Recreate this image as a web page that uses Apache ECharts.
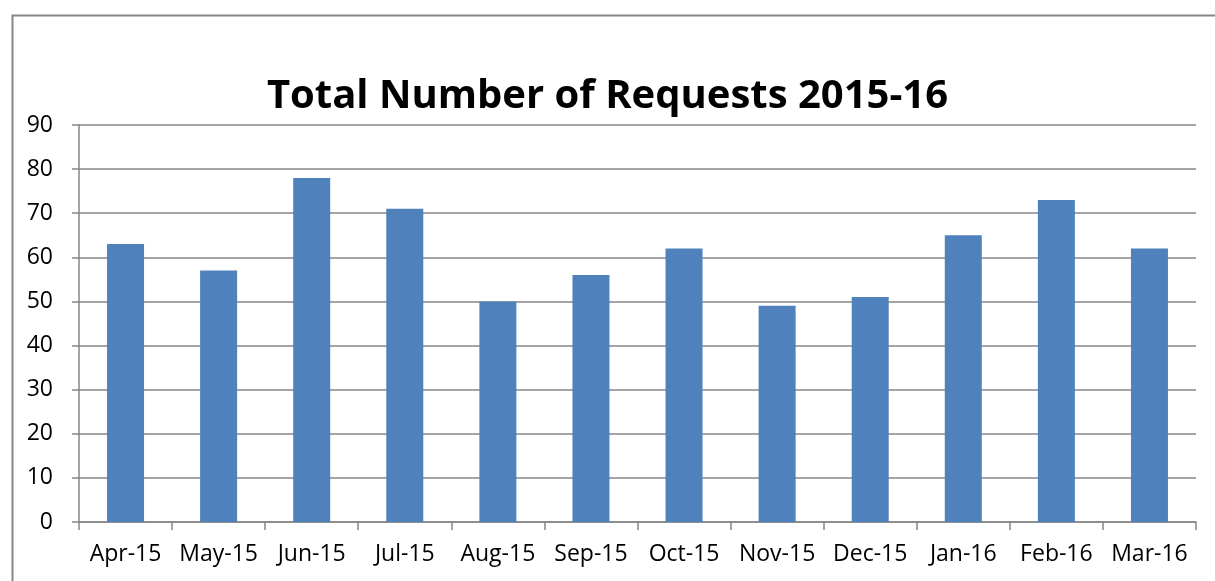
<!DOCTYPE html>
<html>
<head>
    <meta charset="utf-8">
    <title>Total Number of Requests 2015-16</title>
    <script src="https://cdn.jsdelivr.net/npm/echarts@6/dist/echarts.min.js"></script>
    <style>
        html, body { margin: 0; padding: 0; background: #fff; }
        #main { width: 1215px; height: 581px; }
    </style>
</head>
<body>
    <div id="main"></div>
    <script>
        var months = ['Apr-15', 'May-15', 'Jun-15', 'Jul-15', 'Aug-15', 'Sep-15',
            'Oct-15', 'Nov-15', 'Dec-15', 'Jan-16', 'Feb-16', 'Mar-16'];
        var requests = [63, 57, 78, 71, 50, 56, 62, 49, 51, 65, 73, 62];

        var myChart = echarts.init(document.getElementById('main'));

        var option = {
            animation: false,
            textStyle: { fontFamily: 'Open Sans' },
            title: {
                text: 'Total Number of Requests 2015-16',
                left: 'center',
                top: 72,
                textStyle: {
                    fontFamily: 'Open Sans',
                    fontSize: 40,
                    fontWeight: 'bold',
                    color: '#000'
                }
            },
            graphic: [{
                type: 'rect',
                left: 10,
                top: 13,
                shape: { width: 1230, height: 600 },
                style: { fill: 'none', stroke: '#868686', lineWidth: 2 },
                silent: true
            }],
            grid: {
                left: 79,
                right: 19,
                top: 125,
                bottom: 59
            },
            xAxis: {
                type: 'category',
                data: months,
                axisLine: { lineStyle: { color: '#868686', width: 1.5 } },
                axisTick: { show: true, length: 8, lineStyle: { color: '#868686', width: 1.5 } },
                axisLabel: { color: '#000', fontSize: 23, margin: 21, interval: 0 }
            },
            yAxis: {
                type: 'value',
                min: 0,
                max: 90,
                interval: 10,
                axisLine: { show: true, lineStyle: { color: '#868686', width: 1.5 } },
                axisTick: { show: true, length: 7, lineStyle: { color: '#868686', width: 1.5 } },
                axisLabel: { color: '#000', fontSize: 23, margin: 26 },
                splitLine: { lineStyle: { color: '#868686', width: 1.5 } }
            },
            series: [{
                name: 'Requests',
                type: 'bar',
                data: requests,
                barWidth: 37,
                itemStyle: { color: '#4F81BD' }
            }]
        };

        myChart.setOption(option);
    </script>
</body>
</html>
